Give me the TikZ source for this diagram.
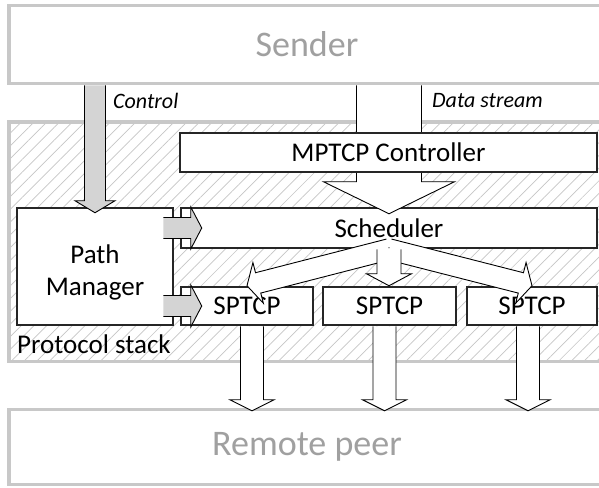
\documentclass[tikz,border=0pt]{standalone}
\usepackage{fontspec}
\setmainfont{Carlito}
\usetikzlibrary{calc,patterns.meta}

\definecolor{outergray}{HTML}{C8C8C8}
\definecolor{labelgray}{HTML}{A0A0A0}
\definecolor{boxline}{HTML}{262626}
\definecolor{pmgray}{HTML}{D4D4D4}

% block arrow: [fill]{from}{to}{half shaft}{half head}{head length}
\newcommand{\blockarrow}[6][white]{%
  \coordinate (ba-s) at #2;
  \coordinate (ba-t) at #3;
  \coordinate (ba-h) at ($(ba-t)!#6!(ba-s)$);
  \coordinate (ba-1) at ($(ba-s)!#4!90:(ba-t)$);
  \coordinate (ba-2) at ($(ba-h)!#4!90:(ba-t)$);
  \coordinate (ba-3) at ($(ba-h)!#5!90:(ba-t)$);
  \coordinate (ba-4) at ($(ba-h)!#5!-90:(ba-t)$);
  \coordinate (ba-5) at ($(ba-h)!#4!-90:(ba-t)$);
  \coordinate (ba-6) at ($(ba-s)!#4!-90:(ba-t)$);
  \fill[#1] (ba-1) -- (ba-2) -- (ba-3) -- (ba-t) -- (ba-4) -- (ba-5) -- (ba-6) -- cycle;
  \draw[arrowline] (ba-1) -- (ba-2) -- (ba-3) -- (ba-t) -- (ba-4) -- (ba-5) -- (ba-6);
}

\begin{document}
\begin{tikzpicture}[
  x=1pt, y=-1pt,
  outer/.style={draw=outergray, line width=3.5pt, fill=white, text=labelgray,
    font=\fontsize{36}{40}\selectfont},
  stackbox/.style={draw=outergray, line width=3.5pt,
    pattern={Lines[angle=45, distance=9pt, line width=0.7pt]}, pattern color=gray!45},
  block/.style={draw=boxline, line width=2.5pt, fill=white, inner sep=0pt,
    font=\fontsize{27}{32}\selectfont},
  arrowline/.style={draw=black, line width=0.9pt, line join=miter},
  tag/.style={anchor=west, inner sep=0pt, font=\fontsize{22}{25}\selectfont\itshape}
]
\clip (0,0) rectangle (599,487);
\fill[white] (0,0) rectangle (599,487);

% outer boxes
\node[outer, minimum width=596pt, minimum height=78pt] (sender) at (307,44.5) {Sender};
\node[stackbox, minimum width=596pt, minimum height=239.5pt] (stack) at (307,241.75) {};
\node[outer, minimum width=596pt, minimum height=75pt] (peer) at (307,447) {Remote peer};
\node[anchor=base west, inner sep=0pt, font=\fontsize{27}{32}\selectfont] (stacklabel) at (17,353) {Protocol stack};

\node[tag] (ctrltag) at (113,101) {Control};
\node[tag] (datatag) at (432,101) {Data stream};

% inner blocks
\node[block, minimum width=416pt, minimum height=40pt] (sched) at (389,228) {Scheduler};
\node[block, minimum width=156pt, minimum height=117pt] (pm) at (95,266.5) {};
\node[align=center, inner sep=0pt, font=\fontsize{27}{32}\selectfont] (pmtext) at ($(pm.center)+(0,6)$) {Path\\Manager};
\node[block, minimum width=132pt, minimum height=38pt] (sp1) at (247,306) {SPTCP};
\node[block, minimum width=133pt, minimum height=38pt] (sp2) at (389.5,306) {SPTCP};
\node[block, minimum width=130pt, minimum height=38pt] (sp3) at (532,306) {SPTCP};

% data stream
\blockarrow{(sender.south -| sched.north)}{($(sched.north)+(0,7)$)}{32.5pt}{65.5pt}{32pt}
\node[block, minimum width=417pt, minimum height=39pt] (ctrl) at (388.5,152.5) {MPTCP Controller};

% control
\blockarrow[pmgray]{(sender.south -| pm.north)}{($(pm.north)+(0,6)$)}{10.5pt}{20pt}{12pt}
\blockarrow[pmgray]{($(pm.east |- sched.west)+(-11,0)$)}{($(sched.west)+(22,0)$)}{10.5pt}{21pt}{11pt}
\blockarrow[pmgray]{($(pm.east |- sp1.west)+(-11,0)$)}{($(sp1.west)+(22,0)$)}{10.5pt}{21pt}{11pt}

% scheduler to subflows
\blockarrow{(sched.south)}{(sp1.north)}{10.5pt}{21pt}{11.5pt}
\blockarrow{(sched.south)}{(sp3.north)}{10.5pt}{21pt}{11.5pt}
\blockarrow{(sched.south)}{(sched.south |- sp2.north)}{12pt}{22.5pt}{12pt}

% subflows to peer
\blockarrow{($(sp1.south)+(5,0)$)}{($(sp1.south |- peer.north)+(5,3)$)}{11.5pt}{22pt}{11pt}
\blockarrow{($(sp2.south)+(-5,0)$)}{($(sp2.south |- peer.north)+(-5,3)$)}{11.5pt}{22pt}{11pt}
\blockarrow{($(sp3.south)+(-4,0)$)}{($(sp3.south |- peer.north)+(-4,3)$)}{11.5pt}{22pt}{11pt}
\end{tikzpicture}
\end{document}
